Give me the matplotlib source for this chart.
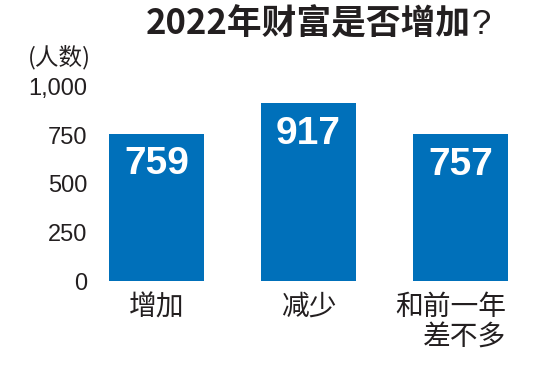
import matplotlib
matplotlib.use('Agg')
import matplotlib.pyplot as plt
import numpy as np

plt.rcParams['font.family'] = ['Noto Sans CJK SC', 'DejaVu Sans']

# 数据
categories = ['增加', '减少', '和前一年\n差不多']
counts = [759, 917, 757]
yticks = [0, 250, 500, 750, 1000]
ytick_labels = ['0', '250', '500', '750', '1,000']
title = '2022年财富是否增加'
unit = '(人数)'

bar_color = '#0070ba'
text_color = '#231f20'

fig = plt.figure(figsize=(5.49, 3.66), dpi=100)
W, H = 549, 366
# 坐标轴: 左100px, 右520px, 底281px, 顶80px
ax = fig.add_axes([100 / W, (H - 281) / H, 420 / W, 201 / H])

x = np.arange(len(categories))
ax.bar(x, counts, width=0.625, color=bar_color)

# x: 0 在 156.5px, 每类 152px
ax.set_xlim(-(156.5 - 100) / 152, -(156.5 - 100) / 152 + 420 / 152)
ax.set_ylim(0, 201 / 0.194)

for s in ax.spines.values():
    s.set_visible(False)
ax.set_yticks(yticks)
ax.set_yticklabels(ytick_labels, family=['Liberation Sans', 'DejaVu Sans'],
                   fontsize=17, color=text_color)
ax.tick_params(axis='y', length=0, pad=9)
ax.set_xticks([])

# 柱内数值
for xi, v in zip(x, counts):
    ax.annotate(f'{v}', xy=(xi, v), xytext=(0, -22), textcoords='offset points',
                ha='center', va='center', color='white', fontsize=28,
                fontweight='bold', family=['Liberation Sans', 'DejaVu Sans'])

# 类别标签
for xi, lab in zip(x, categories):
    if '\n' in lab:
        ax.annotate(lab, xy=(xi + 0.3, 0), xytext=(0, -8), textcoords='offset points',
                    ha='right', va='top', multialignment='right', fontsize=20,
                    color=text_color, linespacing=1.0)
    else:
        ax.annotate(lab, xy=(xi, 0), xytext=(0, -8), textcoords='offset points',
                    ha='center', va='top', fontsize=20, color=text_color)

# 标题 (问号用细体)
fig.text(471 / W, 1 - 24 / H, title, ha='right', va='center', fontsize=25,
         fontweight='bold', color=text_color)
fig.text(472 / W, 1 - 24 / H, '?', ha='left', va='center', fontsize=25,
         fontweight='light', color=text_color,
         family=['Liberation Sans', 'DejaVu Sans'])
fig.text(59.5 / W, 1 - 57 / H, unit, ha='center', va='center', fontsize=17,
         fontweight='light', color=text_color)

fig.savefig('out.png', dpi=100)
